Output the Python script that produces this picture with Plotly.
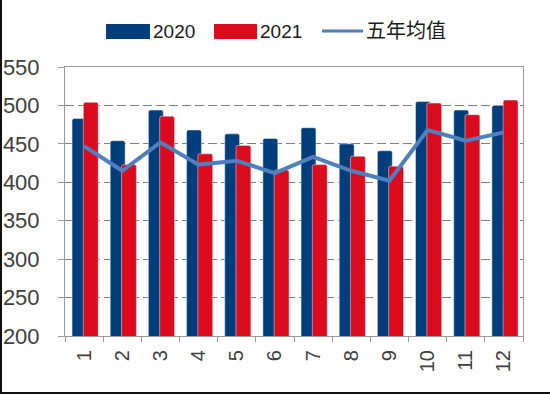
import plotly.graph_objects as go

months = ["1", "2", "3", "4", "5", "6", "7", "8", "9", "10", "11", "12"]
v2020 = [483, 454, 494, 468, 463, 457, 471, 450, 441, 505, 494, 500]
v2021 = [504, 423, 486, 437, 448, 416, 423, 434, 421, 503, 488, 507]
avg5 = [447, 415, 452, 423, 428, 412, 433, 415, 402, 468, 454, 465]

names = ["2020", "2021", "五年均值"]
c_blue = "#003e7b"
c_red = "#db0a1d"
c_line = "#4f7fbd"

W, H = 550, 395
L, R, T, B = 65, 27, 67, 59
pw, ph = W - L - R, H - T - B


def px(xp):
    return (xp - L) / pw


def py(yp):
    return (H - B - yp) / ph


fig = go.Figure()
fig.add_trace(go.Bar(x=months, y=v2020, name=names[0], marker_color=c_blue,
                     width=0.39, offset=-0.315, marker_cornerradius=2,
                     showlegend=False))
fig.add_trace(go.Bar(x=months, y=v2021, name=names[1], marker_color=c_red,
                     width=0.39, offset=-0.02, marker_cornerradius=2,
                     showlegend=False))
fig.add_trace(go.Scatter(x=months, y=avg5, name=names[2], mode="lines",
                         line=dict(color=c_line, width=4), showlegend=False))

axis_gray = "#9a9a9a"
fig.update_layout(
    width=W, height=H,
    margin=dict(l=L, r=R, t=T, b=B, pad=0, autoexpand=False),
    paper_bgcolor="white", plot_bgcolor="white",
    barmode="overlay",
    font=dict(family="Liberation Sans, Arial, sans-serif", color="#404040"),
    xaxis=dict(type="category", range=[-0.5, 11.5], showgrid=False,
               automargin=False,
               showline=True, linecolor=axis_gray, linewidth=1, mirror=True,
               ticks="outside", ticklen=5, tickcolor=axis_gray,
               tickson="boundaries", tickangle=-90,
               tickfont=dict(size=20, color="#404040"),
               ticklabelstandoff=5),
    yaxis=dict(range=[200, 550], dtick=50, showgrid=True, automargin=False,
               gridcolor="#808080", griddash="9px,4px", gridwidth=1,
               showline=True, linecolor=axis_gray, linewidth=1, mirror=True,
               ticks="outside", ticklen=6, tickcolor=axis_gray,
               tickfont=dict(size=22, color="#404040"),
               ticklabelstandoff=14, zeroline=False),
)

shapes = []
# outer frame lines (left and bottom)
shapes.append(dict(type="line", xref="paper", yref="paper",
                   x0=px(1), x1=px(1), y0=py(0), y1=py(394),
                   line=dict(color="#111111", width=2)))
shapes.append(dict(type="line", xref="paper", yref="paper",
                   x0=px(0), x1=px(W), y0=py(393), y1=py(393),
                   line=dict(color="#111111", width=2)))
# legend swatches
shapes.append(dict(type="rect", xref="paper", yref="paper",
                   x0=px(106), x1=px(150), y0=py(39), y1=py(24),
                   fillcolor=c_blue, line=dict(width=0)))
shapes.append(dict(type="rect", xref="paper", yref="paper",
                   x0=px(214), x1=px(257), y0=py(39), y1=py(24),
                   fillcolor=c_red, line=dict(width=0)))
shapes.append(dict(type="line", xref="paper", yref="paper",
                   x0=px(322), x1=px(363), y0=py(31), y1=py(31),
                   line=dict(color=c_line, width=3)))
fig.update_layout(shapes=shapes)

ann_font = dict(family="Liberation Sans, Arial, sans-serif", size=19, color="#1a1a1a")
cjk_font = dict(family="Noto Sans CJK SC, sans-serif", size=20, color="#1a1a1a")
fig.add_annotation(x=px(151), y=py(31.5), xref="paper", yref="paper",
                   text=names[0], showarrow=False, xanchor="left",
                   yanchor="middle", font=ann_font)
fig.add_annotation(x=px(258), y=py(31.5), xref="paper", yref="paper",
                   text=names[1], showarrow=False, xanchor="left",
                   yanchor="middle", font=ann_font)
fig.add_annotation(x=px(364), y=py(29), xref="paper", yref="paper",
                   text=names[2], showarrow=False, xanchor="left",
                   yanchor="middle", font=cjk_font)

fig.write_html("out.html",
               config={"displayModeBar": False},
               post_script="document.body.style.margin='0px';"
                           "document.body.style.overflow='hidden';")
